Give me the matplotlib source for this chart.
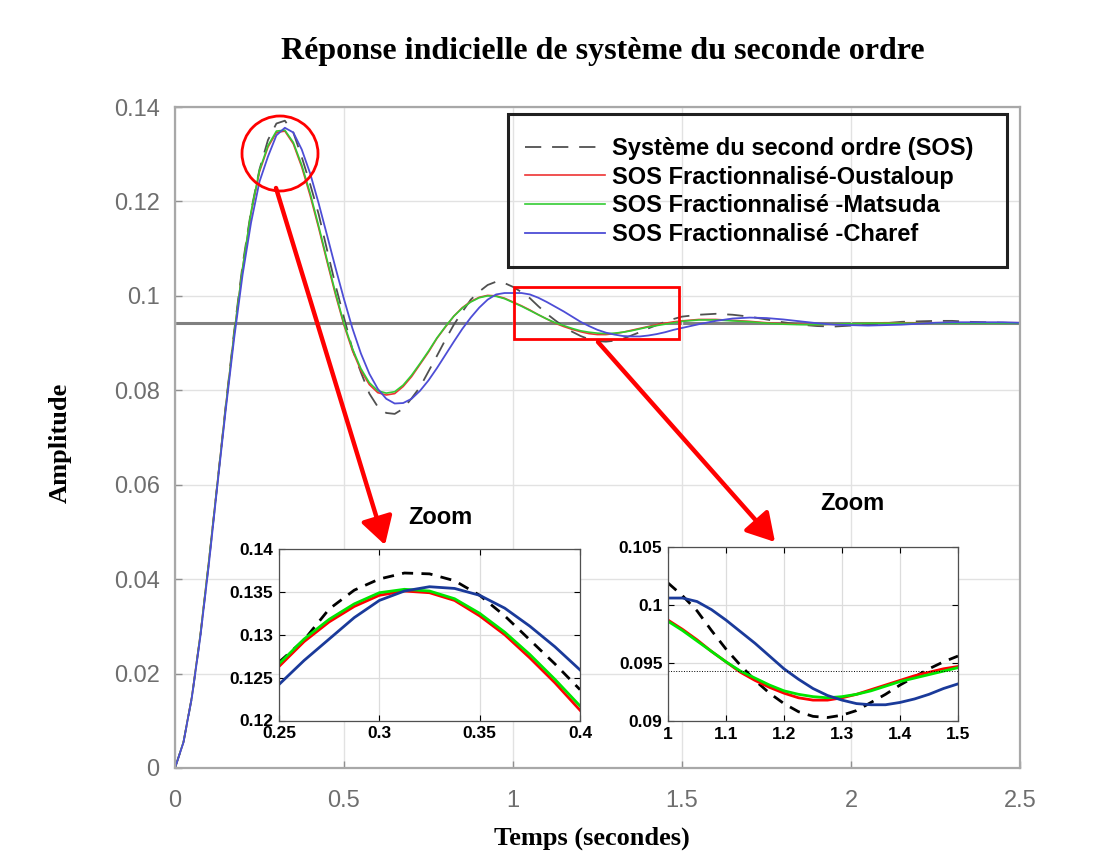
import numpy as np
import matplotlib
matplotlib.use("Agg")
import matplotlib.pyplot as plt
from matplotlib.patches import Ellipse, Rectangle, FancyArrowPatch

# --- données ---
# pas de 0.025 s jusqu'à 1.5 s, puis 0.05 s jusqu'à 2.5 s
t_main = np.concatenate([np.arange(61) * 0.025, 1.5 + np.arange(1, 21) * 0.05])
regime = 0.0943

sos = [0.0, 0.0054, 0.0149, 0.0280, 0.0434, 0.0600, 0.0767, 0.0925, 0.1066, 0.1180,
       0.1268, 0.1330, 0.1365, 0.1371, 0.1346, 0.1294, 0.1236, 0.1173, 0.1097, 0.1022,
       0.0954, 0.0887, 0.0838, 0.0793, 0.0765, 0.0752, 0.0750, 0.0761, 0.0783, 0.0807,
       0.0840, 0.0873, 0.0907, 0.0939, 0.0966, 0.0992, 0.1009, 0.1023, 0.1030, 0.1027,
       0.1019, 0.1008, 0.0995, 0.0978, 0.0962, 0.0948, 0.0935, 0.0924, 0.0915, 0.0908,
       0.0904, 0.0903, 0.0905, 0.0909, 0.0916, 0.0923, 0.0931, 0.0938, 0.0945, 0.0951,
       0.0956,
       0.0960, 0.0962, 0.0960, 0.0956, 0.0950, 0.0944, 0.0939, 0.0936, 0.0935, 0.0937,
       0.0939, 0.0942, 0.0945, 0.0946, 0.0947, 0.0947, 0.0945, 0.0944, 0.0943, 0.0942]
oustaloup = [0.0, 0.0055, 0.0152, 0.0283, 0.0438, 0.0601, 0.0765, 0.0920, 0.1058, 0.1175,
             0.1263, 0.1315, 0.1346, 0.1349, 0.1322, 0.1273, 0.1212, 0.1144, 0.1072, 0.1002,
             0.0938, 0.0884, 0.0842, 0.0812, 0.0795, 0.0790, 0.0793, 0.0808, 0.0829, 0.0855,
             0.0881, 0.0910, 0.0934, 0.0957, 0.0975, 0.0988, 0.0997, 0.1001, 0.1000, 0.0995,
             0.0987, 0.0979, 0.0970, 0.0960, 0.0951, 0.0942, 0.0935, 0.0929, 0.0924, 0.0920,
             0.0918, 0.0918, 0.0920, 0.0923, 0.0927, 0.0931, 0.0935, 0.0939, 0.0942, 0.0945,
             0.0947,
             0.0950, 0.0950, 0.0948, 0.0946, 0.0943, 0.0941, 0.0940, 0.0939, 0.0940, 0.0941,
             0.0942, 0.0943, 0.0943, 0.0943, 0.0943, 0.0943, 0.0943, 0.0943, 0.0943, 0.0943]
matsuda = [0.0, 0.0055, 0.0151, 0.0282, 0.0437, 0.0600, 0.0764, 0.0920, 0.1059, 0.1178,
           0.1266, 0.1318, 0.1349, 0.1351, 0.1325, 0.1277, 0.1217, 0.1148, 0.1076, 0.1006,
           0.0941, 0.0888, 0.0846, 0.0816, 0.0799, 0.0794, 0.0797, 0.0811, 0.0832, 0.0857,
           0.0883, 0.0911, 0.0935, 0.0957, 0.0974, 0.0987, 0.0996, 0.1000, 0.0999, 0.0994,
           0.0986, 0.0978, 0.0969, 0.0960, 0.0951, 0.0943, 0.0937, 0.0931, 0.0926, 0.0923,
           0.0921, 0.0920, 0.0921, 0.0923, 0.0926, 0.0930, 0.0934, 0.0937, 0.0940, 0.0943,
           0.0946,
           0.0949, 0.0949, 0.0947, 0.0945, 0.0942, 0.0940, 0.0939, 0.0939, 0.0940, 0.0941,
           0.0942, 0.0942, 0.0942, 0.0942, 0.0942, 0.0942, 0.0942, 0.0942, 0.0942, 0.0942]
charef = [0.0, 0.0054, 0.0150, 0.0278, 0.0430, 0.0596, 0.0758, 0.0910, 0.1045, 0.1155,
          0.1242, 0.1295, 0.1340, 0.1356, 0.1346, 0.1310, 0.1259, 0.1196, 0.1128, 0.1059,
          0.0993, 0.0931, 0.0878, 0.0835, 0.0803, 0.0782, 0.0772, 0.0773, 0.0782, 0.0799,
          0.0821, 0.0847, 0.0875, 0.0903, 0.0930, 0.0954, 0.0975, 0.0992, 0.1003, 0.1006,
          0.1006, 0.1006, 0.1003, 0.0996, 0.0987, 0.0977, 0.0967, 0.0956, 0.0945, 0.0936,
          0.0928, 0.0922, 0.0918, 0.0915, 0.0914, 0.0914, 0.0916, 0.0919, 0.0923, 0.0928,
          0.0932,
          0.0940, 0.0947, 0.0952, 0.0954, 0.0953, 0.0950, 0.0946, 0.0942, 0.0939, 0.0938,
          0.0937, 0.0938, 0.0939, 0.0941, 0.0943, 0.0944, 0.0944, 0.0944, 0.0944, 0.0943]

# zoom 1 : autour du premier pic
t_z1 = np.linspace(0.25, 0.4, 13)
sos_z1 = [0.1268, 0.1294, 0.1330, 0.1352, 0.1365, 0.1372, 0.1371, 0.1363, 0.1346,
          0.1322, 0.1294, 0.1266, 0.1236]
oust_z1 = [0.1263, 0.1292, 0.1315, 0.1333, 0.1346, 0.1351, 0.1349, 0.1340, 0.1322,
           0.1300, 0.1273, 0.1244, 0.1212]
mats_z1 = [0.1266, 0.1295, 0.1318, 0.1336, 0.1349, 0.1353, 0.1351, 0.1342, 0.1325,
           0.1303, 0.1277, 0.1248, 0.1217]
char_z1 = [0.1242, 0.1270, 0.1295, 0.1320, 0.1340, 0.1351, 0.1356, 0.1354, 0.1346,
           0.1331, 0.1310, 0.1286, 0.1259]

# zoom 2 : entre 1 et 1.5 s
t_z2 = np.linspace(1.0, 1.5, 21)
sos_z2 = [0.1019, 0.1008, 0.0995, 0.0978, 0.0962, 0.0948, 0.0935, 0.0924, 0.0915, 0.0908,
          0.0904, 0.0903, 0.0905, 0.0909, 0.0916, 0.0923, 0.0931, 0.0938, 0.0945, 0.0951,
          0.0956]
oust_z2 = [0.0987, 0.0979, 0.0970, 0.0960, 0.0951, 0.0942, 0.0935, 0.0929, 0.0924, 0.0920,
           0.0918, 0.0918, 0.0920, 0.0923, 0.0927, 0.0931, 0.0935, 0.0939, 0.0942, 0.0945,
           0.0947]
mats_z2 = [0.0986, 0.0978, 0.0969, 0.0960, 0.0951, 0.0943, 0.0937, 0.0931, 0.0926, 0.0923,
           0.0921, 0.0920, 0.0921, 0.0923, 0.0926, 0.0930, 0.0934, 0.0937, 0.0940, 0.0943,
           0.0946]
char_z2 = [0.1006, 0.1006, 0.1003, 0.0996, 0.0987, 0.0977, 0.0967, 0.0956, 0.0945, 0.0936,
           0.0928, 0.0922, 0.0918, 0.0915, 0.0914, 0.0914, 0.0916, 0.0919, 0.0923, 0.0928,
           0.0932]

labels = ["Système du second ordre (SOS)", "SOS Fractionnalisé-Oustaloup",
          "SOS Fractionnalisé -Matsuda", "SOS Fractionnalisé -Charef"]

W, H = 1116, 856
plt.rcParams['font.family'] = ['Liberation Sans', 'DejaVu Sans']


def fx(px):
    return px / W


def fy(py):
    return 1 - py / H


fig = plt.figure(figsize=(W / 100, H / 100), dpi=100)

# --- axe principal (pixels : 175..1020 en x, 107..768 en y) ---
ax = fig.add_axes([fx(175), fy(768), fx(1020) - fx(175), fy(107) - fy(768)])
ax.plot(t_main, sos, color='#505050', lw=1.3, ls=(0, (9, 6)), label=labels[0])
ax.plot(t_main, oustaloup, color='#ee3333', lw=1.2, label=labels[1])
ax.plot(t_main, matsuda, color='#33cc33', lw=1.2, label=labels[2])
ax.plot(t_main, charef, color='#4d4dd6', lw=1.3, label=labels[3])
ax.axhline(regime, color='#808080', lw=2.2, zorder=1)

ax.set_xlim(0, 2.5)
ax.set_ylim(0, 0.14)
ax.set_xticks([0, 0.5, 1, 1.5, 2, 2.5])
ax.set_xticklabels(['0', '0.5', '1', '1.5', '2', '2.5'])
ax.set_yticks(np.arange(0, 0.141, 0.02))
ax.set_yticklabels(['0', '0.02', '0.04', '0.06', '0.08', '0.1', '0.12', '0.14'])
ax.tick_params(direction='in', length=5, width=1, colors='#909090',
               labelcolor='#6e6e6e', labelsize=17)
ax.tick_params(axis='y', pad=11)
ax.tick_params(axis='x', pad=16)
ax.grid(True, color='#e2e2e2', lw=1)
for s in ax.spines.values():
    s.set_color('#a8a8a8')
    s.set_linewidth(1.6)

# légende sans cadre + cadre dessiné à part (plus haut que le texte)
leg = ax.legend(loc='upper left', bbox_to_anchor=((525 - 175) / 845, (768 - 137) / 661),
                bbox_transform=ax.transAxes, frameon=False,
                prop={'weight': 'bold', 'size': 17}, handlelength=3.4,
                handletextpad=0.3, labelspacing=0.24, borderpad=0, borderaxespad=0)
box = Rectangle((fx(508), fy(267)), fx(1007) - fx(508), fy(114) - fy(267),
                transform=fig.transFigure, fill=False, ec='#202020', lw=2.2, zorder=5)
fig.add_artist(box)

# --- titres ---
serif = ['Liberation Serif', 'DejaVu Serif']
fig.text(fx(603), fy(52), "Réponse indicielle de système du seconde ordre",
         ha='center', va='center', family=serif, weight='bold', size=23)
fig.text(fx(592), fy(838), "Temps (secondes)", ha='center', va='center',
         family=serif, weight='bold', size=19)
fig.text(fx(60), fy(443), "Amplitude", ha='center', va='center', rotation=90,
         family=serif, weight='bold', size=19)

# --- repères rouges ---
fig.add_artist(Ellipse((fx(280), fy(153.5)), 76 / W, 75 / H, transform=fig.transFigure,
                       fill=False, ec='red', lw=2, zorder=6))
fig.add_artist(Rectangle((fx(514), fy(339)), (679 - 514) / W, (339 - 287) / H,
                         transform=fig.transFigure, fill=False, ec='red', lw=2, zorder=6))
for a, b in [((276, 188), (385, 545)), ((598, 342), (775, 542))]:
    fig.add_artist(FancyArrowPatch((fx(a[0]), fy(a[1])), (fx(b[0]), fy(b[1])),
                                   transform=fig.transFigure, color='red', lw=3.2,
                                   arrowstyle='-|>,head_length=1.2,head_width=0.7',
                                   mutation_scale=14, shrinkA=0, shrinkB=0, zorder=6))

fig.text(fx(440), fy(518), "Zoom", ha='center', va='center', weight='bold', size=17)
fig.text(fx(852), fy(503), "Zoom", ha='center', va='center', weight='bold', size=17)


def style_inset(axz):
    axz.set_facecolor('white')
    axz.grid(True, color='#dcdcdc', lw=0.9)
    axz.tick_params(direction='in', length=4, width=0.8, top=True, right=True,
                    labelsize=12.5, pad=4)
    for lab in axz.get_xticklabels() + axz.get_yticklabels():
        lab.set_fontweight('bold')
    for s in axz.spines.values():
        s.set_color('#505050')
        s.set_linewidth(0.9)


# --- zoom 1 ---
ax1 = fig.add_axes([fx(279), fy(720.5), fx(580) - fx(279), fy(549) - fy(720.5)], zorder=4)
ax1.plot(t_z1, sos_z1, color='black', lw=2, ls=(0, (4, 3)))
ax1.plot(t_z1, oust_z1, color='#ff0000', lw=2)
ax1.plot(t_z1, mats_z1, color='#00e600', lw=2)
ax1.plot(t_z1, char_z1, color='#1a3a9a', lw=2)
ax1.set_xlim(0.25, 0.4)
ax1.set_ylim(0.12, 0.14)
ax1.set_xticks([0.25, 0.3, 0.35, 0.4])
ax1.set_xticklabels(['0.25', '0.3', '0.35', '0.4'])
ax1.set_yticks([0.12, 0.125, 0.13, 0.135, 0.14])
ax1.set_yticklabels(['0.12', '0.125', '0.13', '0.135', '0.14'])
style_inset(ax1)

# --- zoom 2 ---
ax2 = fig.add_axes([fx(668), fy(721), fx(958) - fx(668), fy(547) - fy(721)], zorder=4)
ax2.plot(t_z2, sos_z2, color='black', lw=2, ls=(0, (4, 3)))
ax2.plot(t_z2, oust_z2, color='#ff0000', lw=2)
ax2.plot(t_z2, mats_z2, color='#00e600', lw=2)
ax2.plot(t_z2, char_z2, color='#1a3a9a', lw=2)
ax2.axhline(regime, color='black', lw=0.7, ls=':')
ax2.set_xlim(1, 1.5)
ax2.set_ylim(0.09, 0.105)
ax2.set_xticks([1, 1.1, 1.2, 1.3, 1.4, 1.5])
ax2.set_xticklabels(['1', '1.1', '1.2', '1.3', '1.4', '1.5'])
ax2.set_yticks([0.09, 0.095, 0.1, 0.105])
ax2.set_yticklabels(['0.09', '0.095', '0.1', '0.105'])
style_inset(ax2)

fig.savefig("out.png", dpi=100)
